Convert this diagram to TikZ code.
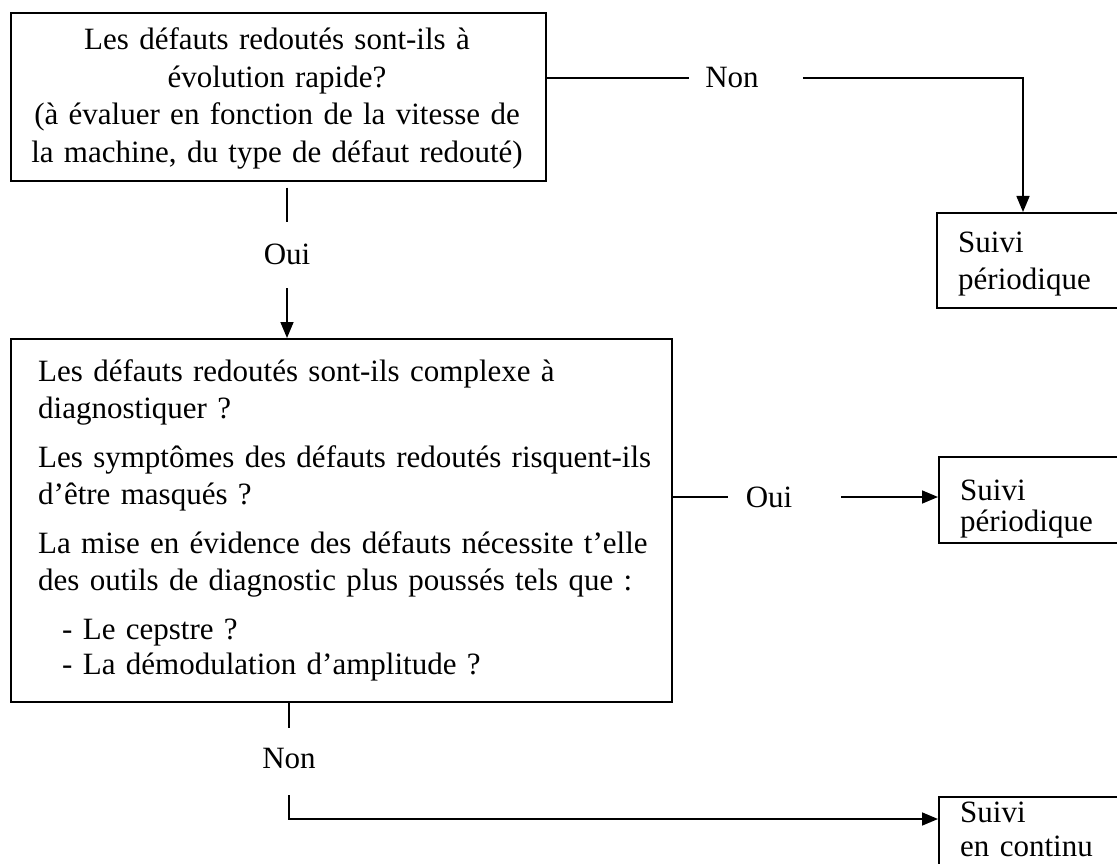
\documentclass[tikz,border=0pt]{standalone}
\usepackage{fontspec}
\setmainfont{Liberation Serif}
\usetikzlibrary{arrows.meta,calc}
\begin{document}
\begin{tikzpicture}[x=1pt,y=-1pt,
  box/.style={draw,line width=1.6pt,rectangle,inner sep=0pt,anchor=north west},
  txt/.style={inner sep=0pt,anchor=base west,align=left,text width=640pt,
              font=\fontsize{31}{37.5}\selectfont},
  lbl/.style={inner sep=0pt,font=\fontsize{31}{37.5}\selectfont},
  link/.style={line width=1.6pt},
  arr/.style={link,-{Triangle[length=16pt,width=13pt]}}]
\useasboundingbox (0,0) rectangle (1117,864);
\fill[white] (0,0) rectangle (1117,864);
\clip (0,0) rectangle (1117,864);

% decision boxes
\node[box,minimum width=535pt,minimum height=168pt] (b1) at (10,12) {};
\node[box,minimum width=661pt,minimum height=363pt] (b2) at (10,338) {};
% outcome boxes (they run on past the right and lower edges)
\node[box,minimum width=200pt,minimum height=95pt] (s1) at (936,212) {};
\node[box,minimum width=200pt,minimum height=86pt] (s2) at (938,456) {};
\node[box,minimum width=200pt,minimum height=120pt] (s3) at (938,796) {};

% box texts
\node[txt,text width=520pt,align=center,anchor=base] (t1) at (277,50)
  {Les défauts redoutés sont-ils à\\ évolution rapide?\\
   (à évaluer en fonction de la vitesse de\\ la machine, du type de défaut redouté)};
\node[txt] (t2) at (38,381)
  {Les défauts redoutés sont-ils complexe à\\ diagnostiquer ?\\[11pt]
   Les symptômes des défauts redoutés risquent-ils\\ d’être masqués ?\\[11pt]
   La mise en évidence des défauts nécessite t’elle\\ des outils de diagnostic plus poussés tels que :\\[11pt]
   \hspace*{24pt}- Le cepstre ?\\[-2pt]
   \hspace*{24pt}- La démodulation d’amplitude ?};
\node[txt,text width=160pt] (t3) at (958,252) {Suivi\\ périodique};
\node[txt,text width=160pt] (t4) at (960,500) {Suivi\\[-6.5pt] périodique};
\node[txt,text width=160pt] (t5) at (960,822) {Suivi\\[-3.5pt] en continu};

% branch labels
\node[lbl] (non1) at (732,78) {Non};
\node[lbl] (oui1) at (287,254) {Oui};
\node[lbl] (oui2) at (769,497) {Oui};
\node[lbl] (non2) at (289,758) {Non};

% connectors
\draw[link,shorten >=16pt] (b1.east |- non1) -- (non1.west);
\draw[arr,shorten <=44pt] (non1.east) -| ($(s1.north west)+(87,0)$);
\draw[link,shorten <=6pt,shorten >=21.5pt] (b1.south -| oui1) -- (oui1.north);
\draw[arr,shorten <=23.5pt] (oui1.south) -- (b2.north -| oui1);
\draw[link,shorten >=17.75pt] (b2.east |- oui2) -- (oui2.west);
\draw[arr,shorten <=48.75pt] (oui2.east) -- (oui2 -| s2.west);
\draw[link,shorten >=19.75pt] (b2.south -| non2) -- (non2.north);
\draw[arr,shorten <=26.75pt] (non2.south) |- ($(s3.north west)+(0,23)$);
\end{tikzpicture}
\end{document}
